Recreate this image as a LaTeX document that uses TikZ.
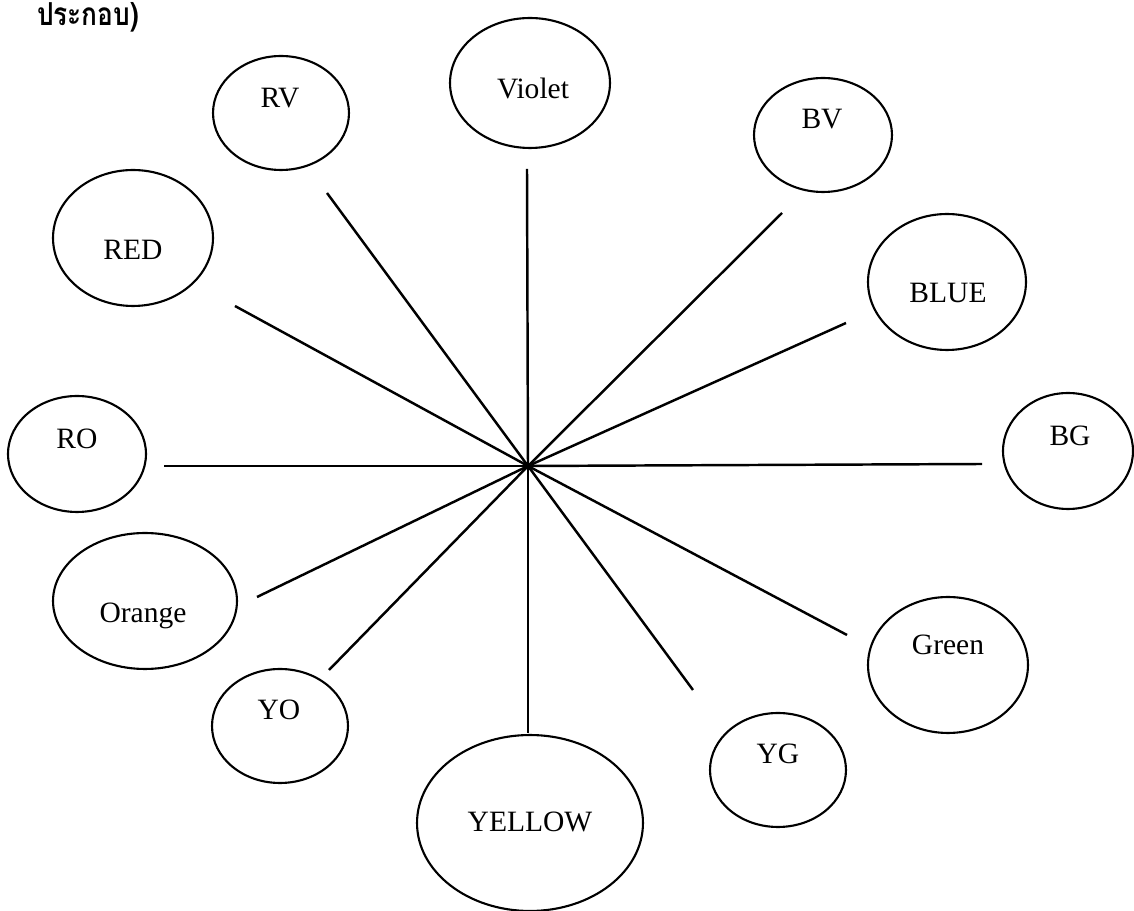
\documentclass[tikz,border=0pt]{standalone}
\usepackage{fontspec}
\setmainfont{Liberation Serif}
\newfontfamily\thaifont[Script=Thai]{Loma}
\usetikzlibrary{shapes.geometric}

\begin{document}
\begin{tikzpicture}[x=0.02cm,y=-0.02cm,very thick,
blob/.style={draw,ellipse,inner sep=0pt,very thick},
lbl/.style={anchor=base,inner sep=0pt,font=\fontsize{16.8pt}{20pt}\selectfont},
spoke/.style={line width=1.4pt}]
\useasboundingbox (0,0) rectangle (1134,911);

\node[anchor=base west,inner sep=0pt,font=\thaifont\bfseries\fontsize{18pt}{20pt}\selectfont] (head) at (36,26) {\scalebox{0.83}[1]{ประกอบ)}};

% hub and free ends of the spokes
\coordinate (hub) at (528,466);
\coordinate (violet-e) at (527,169);
\coordinate (rv-e) at (327,193);
\coordinate (bv-e) at (782,213);
\coordinate (red-e) at (235,306);
\coordinate (blue-e) at (846,323);
\coordinate (ro-e) at (164,466);
\coordinate (bg-e) at (982,464);
\coordinate (orange-e) at (257,597);
\coordinate (green-e) at (847,635);
\coordinate (yo-e) at (329,670);
\coordinate (yg-e) at (693,690);
\coordinate (yellow-e) at (528,733);

\foreach \e in {violet,rv,bv,red,blue,ro,bg,orange,green,yo,yg,yellow}
  \draw[spoke] (hub) -- (\e-e);

\draw (530,83) node[blob,minimum width=3.2cm,minimum height=2.6cm] (violet) {};
\draw (281,113) node[blob,minimum width=2.72cm,minimum height=2.28cm] (rv) {};
\draw (823,135) node[blob,minimum width=2.76cm,minimum height=2.28cm] (bv) {};
\draw (133,238) node[blob,minimum width=3.2cm,minimum height=2.72cm] (red) {};
\draw (947,282) node[blob,minimum width=3.16cm,minimum height=2.72cm] (blue) {};
\draw (77,454) node[blob,minimum width=2.76cm,minimum height=2.32cm] (ro) {};
\draw (1068,451) node[blob,minimum width=2.6cm,minimum height=2.32cm] (bg) {};
\draw (145,601) node[blob,minimum width=3.68cm,minimum height=2.72cm] (orange) {};
\draw (948,665) node[blob,minimum width=3.2cm,minimum height=2.72cm] (green) {};
\draw (280,726) node[blob,minimum width=2.72cm,minimum height=2.28cm] (yo) {};
\draw (778,770) node[blob,minimum width=2.72cm,minimum height=2.28cm] (yg) {};
\draw (530,823) node[blob,minimum width=4.52cm,minimum height=3.52cm] (yellow) {};

\node[lbl] (violet-t) at (533,99) {Violet};
\node[lbl] (rv-t) at (280,108) {RV};
\node[lbl] (bv-t) at (822,129) {BV};
\node[lbl] (red-t) at (133,260) {RED};
\node[lbl] (blue-t) at (948,303) {BLUE};
\node[lbl] (ro-t) at (77,449) {RO};
\node[lbl] (bg-t) at (1070,446) {BG};
\node[lbl] (orange-t) at (143,623) {Orange};
\node[lbl] (green-t) at (948,655) {Green};
\node[lbl] (yo-t) at (279,720) {YO};
\node[lbl] (yg-t) at (778,764) {YG};
\node[lbl] (yellow-t) at (530,832) {YELLOW};

\end{tikzpicture}
\end{document}
